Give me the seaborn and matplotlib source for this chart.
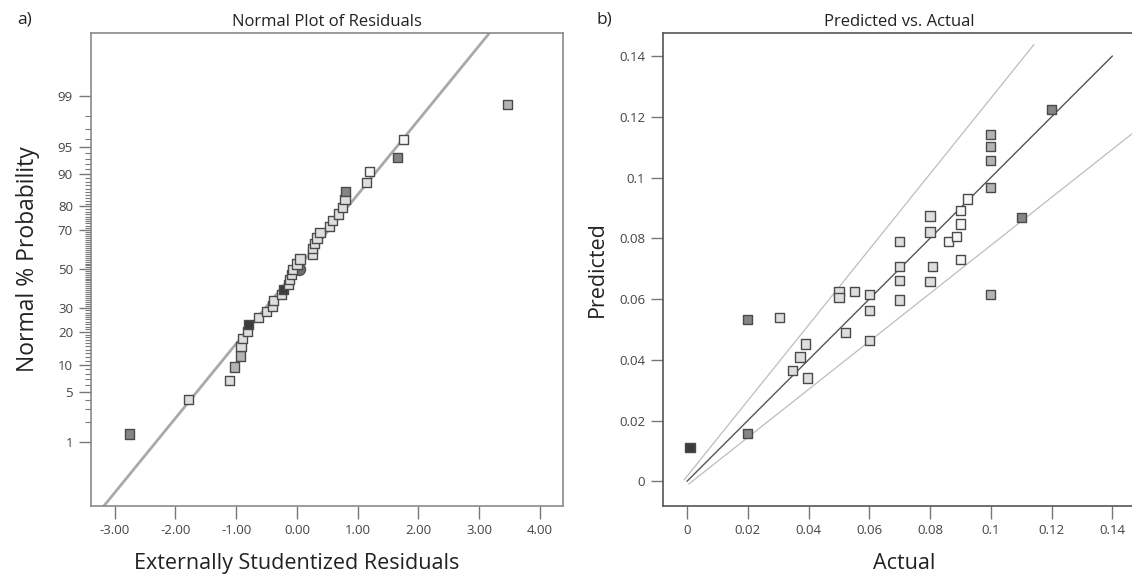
import numpy as np
import pandas as pd
import seaborn as sns
import matplotlib.pyplot as plt
from matplotlib.ticker import FixedLocator, FuncFormatter
from statistics import NormalDist

# ---- a) normal plot of residuals (sorted externally studentized residuals)
residuals = [-2.75, -1.79, -1.11, -1.03, -0.93, -0.92, -0.90, -0.82, -0.80,
             -0.63, -0.50, -0.40, -0.39, -0.26, -0.22, -0.14, -0.12, -0.09,
             -0.07, 0.00, 0.05, 0.25, 0.26, 0.29, 0.33, 0.38, 0.54, 0.58,
             0.69, 0.75, 0.79, 0.80, 1.14, 1.20, 1.66, 1.76, 3.46]
resid_level = [1, 3, 3, 2, 2, 3, 3, 3, 0, 3, 3, 3, 3, 3, 0, 3, 3, 3, 3,
               3, 3, 3, 3, 3, 3, 3, 3, 3, 3, 3, 3, 1, 3, 4, 1, 4, 2]
median_resid = [0.03]
median_prob = [50]
prob_ticks = [1, 5, 10, 20, 30, 50, 70, 80, 90, 95, 99]
resid_ticks = [-3, -2, -1, 0, 1, 2, 3, 4]

# ---- b) predicted vs actual
actual = [0.001, 0.02, 0.02, 0.0305, 0.0347, 0.0372, 0.0391, 0.0397, 0.05,
          0.05, 0.0522, 0.055, 0.06, 0.06, 0.06, 0.07, 0.07, 0.07, 0.07,
          0.08, 0.08, 0.08, 0.0807, 0.086, 0.0888, 0.09, 0.09, 0.09, 0.0924,
          0.1, 0.1, 0.1, 0.1, 0.1, 0.11, 0.12]
predicted = [0.0112, 0.0532, 0.0158, 0.054, 0.0365, 0.0409, 0.0452, 0.034,
             0.0625, 0.0605, 0.0491, 0.0625, 0.0614, 0.0562, 0.0464, 0.0789,
             0.0708, 0.0662, 0.0597, 0.0873, 0.0821, 0.0659, 0.0708, 0.079,
             0.0805, 0.0892, 0.0847, 0.0729, 0.0929, 0.1142, 0.1101, 0.1055,
             0.0968, 0.0615, 0.0868, 0.1225]
pred_level = [0, 1, 1, 3, 3, 3, 3, 3, 3, 3, 3, 3, 3, 3, 3, 3, 3, 3, 3, 3,
              3, 3, 3, 4, 4, 4, 4, 4, 4, 2, 2, 2, 2, 2, 1, 1]
ref_x = [0.0, 0.14]
ref_y = [0.0, 0.14]
upper_x = [-0.001, 0.1142]
upper_y = [0.0004, 0.1438]
lower_x = [0.0006, 0.1500]
lower_y = [-0.0009, 0.1172]
pa_ticks = [0, 0.02, 0.04, 0.06, 0.08, 0.1, 0.12, 0.14]

level_colors = {0: "#3c3c3c", 1: "#858585", 2: "#b4b4b4", 3: "#dedede", 4: "#f6f6f6"}

sns.set_theme(style="white")
plt.rcParams["font.family"] = ["Open Sans", "DejaVu Sans"]

fig = plt.figure(figsize=(11.32, 5.88), dpi=100)
ax1 = fig.add_axes([91 / 1132, 1 - 505.5 / 588, 472 / 1132, 473 / 588])
ax2 = fig.add_axes([663.2 / 1132, 1 - 505.7 / 588, 472.6 / 1132, 473 / 588])

nd = NormalDist()
ppf = np.vectorize(lambda p: nd.inv_cdf(min(max(p / 100, 1e-12), 1 - 1e-12)), otypes=[float])
cdf = np.vectorize(lambda z: nd.cdf(z) * 100, otypes=[float])

# normal plot: plotting positions from rank
n = len(residuals)
df1 = pd.DataFrame({"resid": residuals,
                    "prob": [(i + 0.5) / n * 100 for i in range(n)],
                    "level": resid_level})
ax1.set_yscale("function", functions=(ppf, cdf))
fit_x = np.array([-3.5, 4.5])
ax1.plot(fit_x, cdf(fit_x), color="#a9a9a9", lw=2.0, zorder=1)
sns.scatterplot(x=median_resid, y=median_prob, marker="o", s=75, color="#6e6e6e",
                edgecolor="#505050", linewidth=1, ax=ax1, zorder=2, legend=False)
sns.scatterplot(data=df1, x="resid", y="prob", hue="level", palette=level_colors,
                marker="s", s=44, edgecolor="#4a4a4a", linewidth=1,
                ax=ax1, zorder=3, legend=False)
ax1.set_xlim(-3.39, 4.38)
ax1.set_ylim(cdf(-3.172), cdf(3.176))
ax1.yaxis.set_major_locator(FixedLocator(prob_ticks))
ax1.yaxis.set_major_formatter(FuncFormatter(lambda v, p: f"{v:g}"))
ax1.yaxis.set_minor_locator(FixedLocator([v for v in range(2, 99) if v not in prob_ticks]))
ax1.set_xticks(resid_ticks)
ax1.set_xticklabels([f"{v:.2f}" for v in resid_ticks])
ax1.set_title("Normal Plot of Residuals", fontsize=12, pad=5, color="#222222")
ax1.set_xlabel("Externally Studentized Residuals", fontsize=15.5, color="#222222")
ax1.set_ylabel("Normal % Probability", fontsize=16.5, color="#222222")
ax1.xaxis.set_label_coords(0.436, -0.1)
ax1.yaxis.set_label_coords(-0.108, 0.52)
for sp in ax1.spines.values():
    sp.set_color("#8a8a8a")
    sp.set_linewidth(1.2)

# predicted vs actual
df2 = pd.DataFrame({"actual": actual, "predicted": predicted, "level": pred_level})
ax2.plot(upper_x, upper_y, color="#bdbdbd", lw=0.9, zorder=1)
ax2.plot(lower_x, lower_y, color="#bdbdbd", lw=0.9, zorder=1)
ax2.plot(ref_x, ref_y, color="#555555", lw=1.0, zorder=2)
sns.scatterplot(data=df2, x="actual", y="predicted", hue="level", palette=level_colors,
                marker="s", s=44, edgecolor="#4a4a4a", linewidth=1,
                ax=ax2, zorder=3, legend=False)
ax2.set_xlim(-0.00783, 0.1477)
ax2.set_ylim(-0.00803, 0.14767)
ax2.set_xticks(pa_ticks)
ax2.set_yticks(pa_ticks)
fmt = FuncFormatter(lambda v, p: f"{v:g}")
ax2.xaxis.set_major_formatter(fmt)
ax2.yaxis.set_major_formatter(fmt)
ax2.set_title("Predicted vs. Actual", fontsize=12, pad=5, color="#222222")
ax2.set_xlabel("Actual", fontsize=15.5, color="#222222")
ax2.set_ylabel("Predicted", fontsize=15.5, color="#222222")
ax2.xaxis.set_label_coords(0.51, -0.1)
ax2.yaxis.set_label_coords(-0.118, 0.5)
for sp in ax2.spines.values():
    sp.set_color("#555555")
    sp.set_linewidth(1.2)

for ax in (ax1, ax2):
    ax.tick_params(axis="both", which="major", direction="out", length=9, width=1,
                   color="#777777", labelcolor="#444444", labelsize=9.5, pad=4,
                   bottom=True, left=True)
    ax.tick_params(axis="y", which="minor", direction="out", length=4, width=0.8,
                   color="#777777", left=True)
    ax.grid(False)

fig.text(0.015, 0.966, "a)", fontsize=12.5, va="center", color="#222222")
fig.text(0.527, 0.966, "b)", fontsize=12.5, va="center", color="#222222")

fig.savefig("out.png", dpi=100)
